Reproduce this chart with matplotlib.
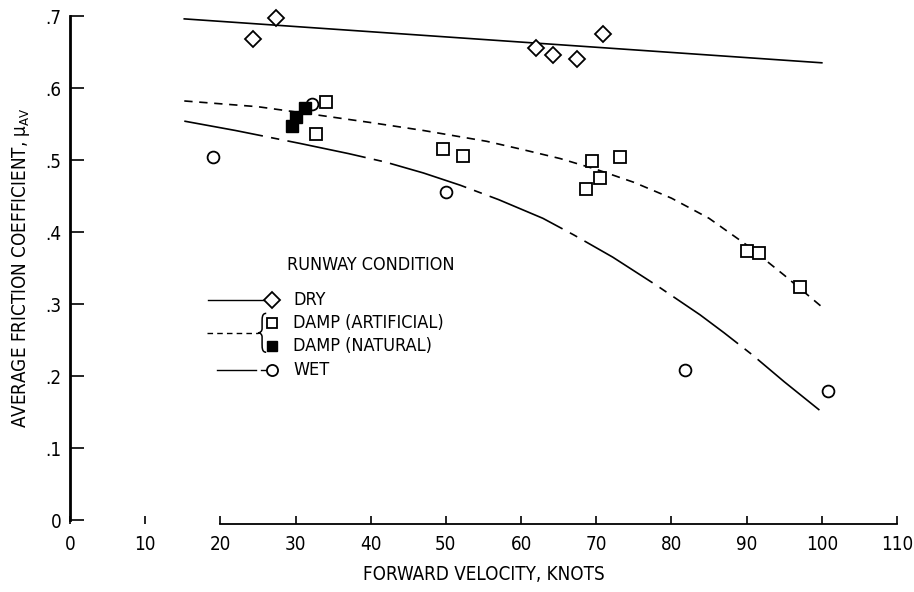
import matplotlib
matplotlib.use("Agg")
import matplotlib.pyplot as plt
from matplotlib.path import Path
from matplotlib.patches import PathPatch

plt.rcParams["font.family"] = ["DejaVu Sans"]
plt.rcParams["font.stretch"] = "condensed"
plt.rcParams["mathtext.fontset"] = "custom"
plt.rcParams["mathtext.rm"] = "DejaVu Sans:stretch=condensed"
plt.rcParams["mathtext.it"] = "DejaVu Sans:stretch=condensed"

# measured points
dry_v = [24.3, 27.4, 62.0, 64.2, 67.4, 70.9]
dry_mu = [0.668, 0.697, 0.656, 0.646, 0.640, 0.675]

damp_art_v = [32.7, 34.0, 49.6, 52.3, 68.6, 69.4, 70.5, 73.1, 90.0, 91.6, 97.1]
damp_art_mu = [0.536, 0.581, 0.515, 0.506, 0.460, 0.499, 0.475, 0.504, 0.374, 0.371, 0.324]

damp_nat_v = [29.5, 30.0, 31.2]
damp_nat_mu = [0.547, 0.560, 0.572]

wet_v = [19.0, 32.2, 50.0, 81.8, 100.8]
wet_mu = [0.504, 0.578, 0.455, 0.208, 0.179]

# faired curves
dry_fit_v = [15.2, 100.0]
dry_fit_mu = [0.696, 0.635]

damp_fit_v = [15.2, 25.0, 31.9, 40.0, 47.0, 55.4, 60.0, 65.2, 70.0, 75.0,
              80.0, 85.0, 90.0, 95.0, 100.0]
damp_fit_mu = [0.582, 0.574, 0.564, 0.552, 0.541, 0.526, 0.515, 0.502, 0.487, 0.469,
               0.447, 0.419, 0.382, 0.340, 0.296]

wet_fit_v = [15.2, 22.0, 30.6, 37.0, 42.0, 47.0, 51.9, 57.0, 62.9, 67.0, 72.2,
             78.0, 83.8, 87.0, 90.8, 95.0, 100.0]
wet_fit_mu = [0.554, 0.541, 0.523, 0.509, 0.497, 0.482, 0.465, 0.445, 0.419, 0.396, 0.365,
              0.326, 0.285, 0.260, 0.229, 0.192, 0.150]

xticks = [0, 10, 20, 30, 40, 50, 60, 70, 80, 90, 100, 110]
yticks = [0, 0.1, 0.2, 0.3, 0.4, 0.5, 0.6, 0.7]
ytick_labels = ["0", ".1", ".2", ".3", ".4", ".5", ".6", ".7"]

fig = plt.figure(figsize=(9.14, 5.92), dpi=100)
ax = fig.add_axes([70 / 914, 72 / 592, 827 / 914, 504 / 592])

lw = 1.2
mk = dict(linestyle="none", markerfacecolor="white", markeredgecolor="black",
          markeredgewidth=1.3, clip_on=False)

ax.plot(dry_fit_v, dry_fit_mu, color="black", lw=lw)
ax.plot(damp_fit_v, damp_fit_mu, color="black", lw=lw, dashes=(5, 4))
ax.plot(wet_fit_v, wet_fit_mu, color="black", lw=lw, dashes=(48, 5, 5, 5))

ax.plot(dry_v, dry_mu, marker="D", markersize=8, **mk)
ax.plot(damp_art_v, damp_art_mu, marker="s", markersize=8, **mk)
ax.plot(wet_v, wet_mu, marker="o", markersize=8.5, **mk)
ax.plot(damp_nat_v, damp_nat_mu, marker="s", markersize=8, linestyle="none",
        color="black", markeredgewidth=1.0)

# legend drawn by hand
fs = 13
ax.text(28.9, 0.354, "RUNWAY CONDITION", fontsize=fs, va="center", ha="left")
ax.plot([18.4, 26.6], [0.306, 0.306], color="black", lw=1.0)
ax.plot([26.9], [0.306], marker="D", markersize=8, **mk)
ax.text(29.7, 0.306, "DRY", fontsize=fs, va="center")
ax.plot([18.2, 25.0], [0.260, 0.260], color="black", lw=1.0, dashes=(4, 3))
brace = Path(
    [(26.1, 0.287), (25.5, 0.287), (25.55, 0.280), (25.55, 0.273),
     (25.55, 0.266),
     (25.55, 0.262), (25.3, 0.260), (25.0, 0.260),
     (25.3, 0.260), (25.55, 0.258), (25.55, 0.254),
     (25.55, 0.247),
     (25.55, 0.240), (25.5, 0.233), (26.1, 0.233)],
    [Path.MOVETO, Path.CURVE4, Path.CURVE4, Path.CURVE4,
     Path.LINETO,
     Path.CURVE4, Path.CURVE4, Path.CURVE4,
     Path.CURVE4, Path.CURVE4, Path.CURVE4,
     Path.LINETO,
     Path.CURVE4, Path.CURVE4, Path.CURVE4])
ax.add_patch(PathPatch(brace, facecolor="none", edgecolor="black", lw=1.1))
ax.plot([26.9], [0.273], marker="s", markersize=7, **mk)
ax.plot([26.9], [0.241], marker="s", markersize=7, linestyle="none", color="black")
ax.text(29.7, 0.273, "DAMP (ARTIFICIAL)", fontsize=fs, va="center")
ax.text(29.7, 0.241, "DAMP (NATURAL)", fontsize=fs, va="center")
ax.plot([19.5, 24.8], [0.209, 0.209], color="black", lw=1.0)
ax.plot([25.4, 26.2], [0.209, 0.209], color="black", lw=1.0)
ax.plot([26.9], [0.209], marker="o", markersize=8, **mk)
ax.text(29.7, 0.209, "WET", fontsize=fs, va="center")

ax.set_xlim(0, 110)
ax.set_ylim(0, 0.7)
ax.set_xticks(xticks)
ax.set_yticks(yticks)
ax.set_yticklabels(ytick_labels)
ax.tick_params(axis="both", direction="in", labelsize=13.5, width=1.2, colors="black")
ax.tick_params(axis="x", length=6, pad=8)
ax.tick_params(axis="y", length=10, pad=6)

for s in ("top", "right"):
    ax.spines[s].set_visible(False)
ax.spines["left"].set_linewidth(2.0)
ax.spines["bottom"].set_linewidth(1.3)
ax.spines["bottom"].set_bounds(20, 110)
ax.spines["bottom"].set_position(("outward", 3))

ax.set_xlabel("FORWARD VELOCITY, KNOTS", fontsize=13.5, labelpad=8)
ax.set_ylabel(r"AVERAGE FRICTION COEFFICIENT, $\mu_{\mathrm{AV}}$", fontsize=13.5, labelpad=10)

fig.savefig("out.png", dpi=100)
